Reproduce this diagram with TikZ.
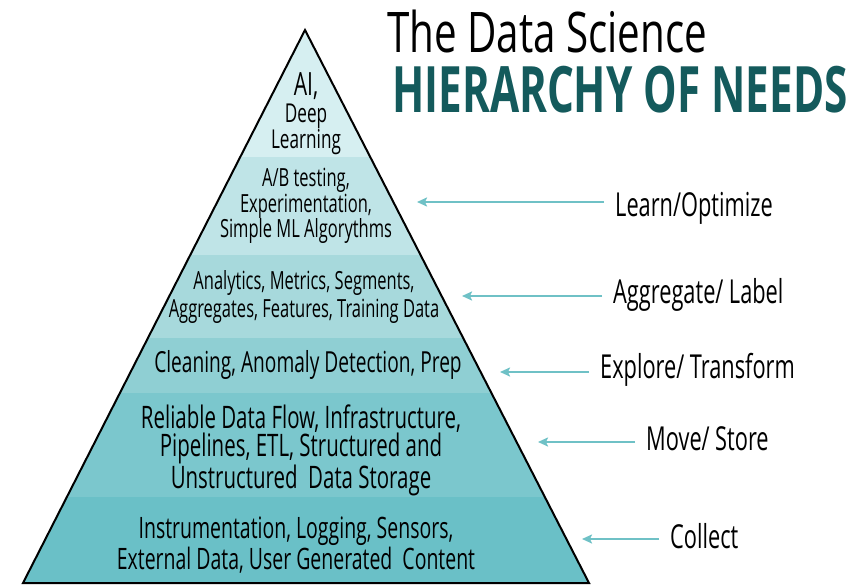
\documentclass[tikz,border=0pt]{standalone}
\usepackage{fontspec}
\usetikzlibrary{arrows.meta}
\newfontfamily\handfont{Open Sans}[FakeStretch=0.66]
\newfontfamily\headfont{Open Sans}[FakeStretch=0.72]
\newfontfamily\titlefont{Open Sans}[FakeStretch=0.66]
\definecolor{bandA}{HTML}{D6EFF1}
\definecolor{bandB}{HTML}{BFE4E7}
\definecolor{bandC}{HTML}{A7D9DC}
\definecolor{bandD}{HTML}{8FCFD3}
\definecolor{bandE}{HTML}{7BC7CD}
\definecolor{bandF}{HTML}{6AC0C7}
\definecolor{arrowc}{HTML}{6FC1C6}
\definecolor{titleteal}{HTML}{145A5C}
\begin{document}
\begin{tikzpicture}[x=1pt,y=-1pt,
  bandtext/.style={align=center, inner sep=0pt, text=black},
  lbl/.style={font=\handfont\fontsize{33}{33}\selectfont, anchor=base west, inner sep=0pt, text=black},
  arr/.style={draw=arrowc, line width=2.6pt, shorten <=11pt, -{Stealth[length=10pt,width=9pt,inset=2pt]}}]
\useasboundingbox (0,0) rectangle (851,585);
\fill[white] (0,0) rectangle (851,585);
\coordinate (apex) at (305,30);
\coordinate (bl) at (23,583);
\coordinate (br) at (589,583);
\begin{scope}
  \clip (apex) -- (bl) -- (br) -- cycle;
  \fill[bandA] (0,20) rectangle (851,157);
  \fill[bandB] (0,157) rectangle (851,255);
  \fill[bandC] (0,255) rectangle (851,338);
  \fill[bandD] (0,338) rectangle (851,393);
  \fill[bandE] (0,393) rectangle (851,497);
  \fill[bandF] (0,497) rectangle (851,590);
\end{scope}
\draw[line width=2pt, line join=miter] (apex) -- (bl) -- (br) -- cycle;

\node[bandtext, font=\handfont\fontsize{26}{26.5}\selectfont] (t1) at (306,114)
  {{\fontsize{32}{26.5}\selectfont AI,}\\Deep\\Learning};
\node[bandtext, font=\handfont\fontsize{25}{25.5}\selectfont] (t2) at (306,206)
  {A/B testing,\\Experimentation,\\Simple ML Algorythms};
\node[bandtext, font=\handfont\fontsize{25}{28}\selectfont] (t3) at (304,297)
  {Analytics, Metrics, Segments,\\Aggregates, Features, Training Data};
\node[bandtext, font=\handfont\fontsize{29}{29}\selectfont] (t4) at (308,365)
  {Cleaning, Anomaly Detection, Prep};
\node[bandtext, font=\handfont\fontsize{31}{28}\selectfont] (t5) at (301,450)
  {Reliable Data Flow, Infrastructure,\\Pipelines, ETL, Structured and\\Unstructured~~Data Storage};
\node[bandtext, font=\handfont\fontsize{29.5}{29}\selectfont] (t6) at (296,545)
  {Instrumentation, Logging, Sensors,\\External Data, User Generated~~Content};

\node[font=\headfont\fontsize{56}{56}\selectfont, anchor=base west, inner sep=0pt] (title1) at (387,53) {The Data Science};
\node[font=\titlefont\bfseries\fontsize{64}{64}\selectfont, text=titleteal, anchor=base west, inner sep=0pt] (title2) at (392,113) {HIERARCHY OF NEEDS};

\coordinate (p1) at (417,202);
\coordinate (p2) at (462,296);
\coordinate (p3) at (500,372);
\coordinate (p4) at (538,442);
\coordinate (p5) at (582,539);
\node[lbl] (l1) at (615,217) {Learn/Optimize};
\node[lbl] (l2) at (613,303) {Aggregate/\,Label};
\node[lbl] (l3) at (600,378) {Explore/\,Transform};
\node[lbl] (l4) at (646,450) {Move/\,Store};
\node[lbl] (l5) at (670,548) {Collect};
\draw[arr] (l1.west |- p1) -- (p1);
\draw[arr] (l2.west |- p2) -- (p2);
\draw[arr] (l3.west |- p3) -- (p3);
\draw[arr] (l4.west |- p4) -- (p4);
\draw[arr] (l5.west |- p5) -- (p5);
\end{tikzpicture}
\end{document}
